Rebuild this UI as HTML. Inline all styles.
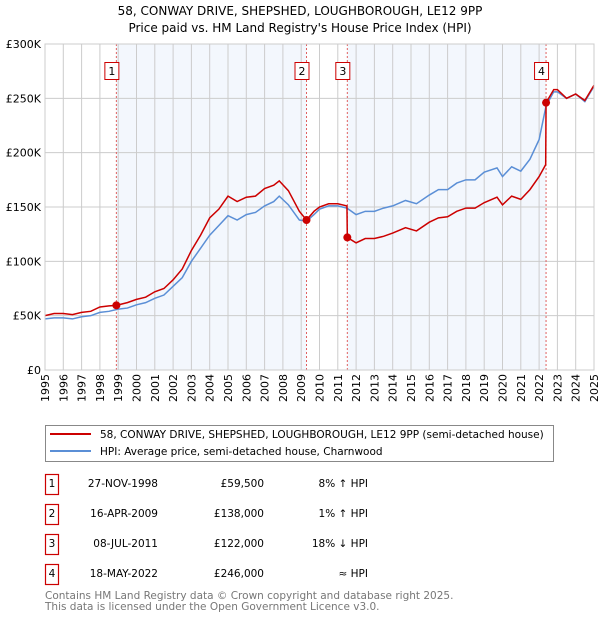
<!DOCTYPE html>
<html><head><meta charset="utf-8"><style>
body{margin:0;background:#fff;}
svg{display:block;font-family:"DejaVu Sans","Liberation Sans",sans-serif;}
</style></head><body>
<svg id="chart" width="600" height="620" viewBox="0 0 600 620">
<text x="300" y="15" text-anchor="middle" font-size="12" fill="#000">58, CONWAY DRIVE, SHEPSHED, LOUGHBOROUGH, LE12 9PP</text>
<text x="300" y="32" text-anchor="middle" font-size="12" fill="#000">Price paid vs. HM Land Registry's House Price Index (HPI)</text>
<g id="plot"></g>
<g>
<rect x="45.5" y="425.5" width="508" height="36" fill="#fff" stroke="#888"/>
<line x1="50" y1="434" x2="91" y2="434" stroke="#cc0000" stroke-width="2"/>
<text x="100" y="438" font-size="10.5">58, CONWAY DRIVE, SHEPSHED, LOUGHBOROUGH, LE12 9PP (semi-detached house)</text>
<line x1="50" y1="451" x2="91" y2="451" stroke="#5b8fd6" stroke-width="2"/>
<text x="100" y="455" font-size="10.5">HPI: Average price, semi-detached house, Charnwood</text>
</g>
<g id="table" font-size="10.5"></g>
<text x="45" y="599" font-size="10.5" fill="#777">Contains HM Land Registry data © Crown copyright and database right 2025.</text>
<text x="45" y="610" font-size="10.5" fill="#777">This data is licensed under the Open Government Licence v3.0.</text>
</svg>
<script>
const hpiYears=[1995,1995.5,1996,1996.5,1997,1997.5,1998,1998.5,1999,1999.5,2000,2000.5,2001,2001.5,2002,2002.5,2003,2003.5,2004,2004.5,2005,2005.5,2006,2006.5,2007,2007.5,2007.8,2008.3,2008.9,2009.3,2009.7,2010,2010.5,2011,2011.5,2012,2012.5,2013,2013.5,2014,2014.7,2015.3,2016,2016.5,2017,2017.5,2018,2018.5,2019,2019.7,2020,2020.5,2021,2021.5,2022,2022.38,2022.8,2023,2023.5,2024,2024.5,2025];
const hpiValues=[47,48,48,47,49,50,53,54,56,57,60,62,66,69,77,85,100,112,124,133,142,138,143,145,151,155,160,152,138,137,143,148,151,151,149,143,146,146,149,151,156,153,161,166,166,172,175,175,182,186,178,187,183,194,212,243,256,256,250,254,247,261];
const propYears=[1995,1995.5,1996,1996.5,1997,1997.5,1998,1998.5,1998.9,1999.5,2000,2000.5,2001,2001.5,2002,2002.5,2003,2003.5,2004,2004.5,2005,2005.5,2006,2006.5,2007,2007.5,2007.8,2008.3,2008.9,2009.29,2009.7,2010,2010.5,2011,2011.5,2011.52,2012,2012.5,2013,2013.5,2014,2014.7,2015.3,2016,2016.5,2017,2017.5,2018,2018.5,2019,2019.7,2020,2020.5,2021,2021.5,2022,2022.36,2022.38,2022.8,2023,2023.5,2024,2024.5,2025];
const propValues=[50,52,52,51,53,54,58,59,59.5,62,65,67,72,75,83,93,110,124,140,148,160,155,159,160,167,170,174,165,146,138,146,150,153,153,151,122,117,121,121,123,126,131,128,136,140,141,146,149,149,154,159,152,160,157,166,178,189,246,258,258,250,254,248,262];
const saleYears=[1998.9,2009.29,2011.52,2022.38];
const saleValues=[59.5,138,122,246];
const saleLabels=["1","2","3","4"];
const saleDates=["27-NOV-1998","16-APR-2009","08-JUL-2011","18-MAY-2022"];
const salePrices=["£59,500","£138,000","£122,000","£246,000"];
const saleHpi=["8% ↑ HPI","1% ↑ HPI","18% ↓ HPI","≈ HPI"];
const yTicks=[0,50,100,150,200,250,300];
const yTickLabels=["£0","£50K","£100K","£150K","£200K","£250K","£300K"];
const xTicks=[1995,1996,1997,1998,1999,2000,2001,2002,2003,2004,2005,2006,2007,2008,2009,2010,2011,2012,2013,2014,2015,2016,2017,2018,2019,2020,2021,2022,2023,2024,2025];

const NS="http://www.w3.org/2000/svg";
const L=45,R=594,T=44,B=370;
const sx=v=>L+(v-1995)/30*(R-L);
const sy=v=>B-v/300*(B-T);
const plot=document.getElementById('plot');
function mk(tag,attrs,parent){const e=document.createElementNS(NS,tag);for(const k in attrs)e.setAttribute(k,attrs[k]);(parent||plot).appendChild(e);return e;}

const bg=mk('rect',{x:L,y:T,width:R-L,height:B-T,fill:'#fff'});


for(let i=0;i<saleYears.length;i+=2){
  const s=mk('rect',{x:sx(saleYears[i]),y:T,width:sx(saleYears[i+1])-sx(saleYears[i]),height:B-T,fill:'#eef3fc',opacity:0.7});
  
  
}
xTicks.forEach(v=>{
  const g=mk('line',{x1:sx(v),x2:sx(v),y1:T,y2:B,stroke:'#ccc','stroke-width':1});
  
  
  const tx=sx(v)+4, ty=B+4;
  const t=mk('text',{x:tx,y:ty,'text-anchor':'end','font-size':11,fill:'#000',transform:'rotate(-90 '+tx+' '+ty+')'});
  t.textContent=v;
  
  
});
yTicks.forEach((v,i)=>{
  const g=mk('line',{x1:L,x2:R,y1:sy(v),y2:sy(v),stroke:'#ccc','stroke-width':1});
  
  
  const t=mk('text',{x:L-4,y:sy(v)+4,'text-anchor':'end','font-size':11,fill:'#000'});
  t.textContent=yTickLabels[i];
  
  
});
saleYears.forEach((v,i)=>{
  const d=mk('line',{x1:sx(v),x2:sx(v),y1:T,y2:B,stroke:'#e06060','stroke-width':1,'stroke-dasharray':'2,2'});
  
  
});
const hp=mk('polyline',{points:hpiYears.map((y,i)=>sx(y)+','+sy(hpiValues[i])).join(' '),fill:'none',stroke:'#5b8fd6','stroke-width':1.5});


const pp=mk('polyline',{points:propYears.map((y,i)=>sx(y)+','+sy(propValues[i])).join(' '),fill:'none',stroke:'#cc0000','stroke-width':1.5});


saleYears.forEach((v,i)=>{
  const c=mk('circle',{cx:sx(v),cy:sy(saleValues[i]),r:4,fill:'#cc0000'});
  
  
  const r=mk('rect',{x:sx(v)-11.5,y:62.5,width:14,height:17,fill:'#fff',stroke:'#c00','stroke-width':1});
  
  
  const t=mk('text',{x:sx(v)-4.5,y:75,'text-anchor':'middle','font-size':11});
  t.textContent=saleLabels[i];
  
  
});
const frame=mk('rect',{x:L,y:T,width:R-L,height:B-T,fill:'none',stroke:'#ccc'});



const tbl=document.getElementById('table');
saleLabels.forEach((l,i)=>{
  const y=483+i*30;
  const r=mk('rect',{x:45.5,y:y-8.5,width:13,height:20,fill:'none',stroke:'#c00','stroke-width':1.2},tbl);
  
  
  const cells=[[52,'middle',l,'table-marker'],[158,'end',saleDates[i],'table-date'],[264,'end',salePrices[i],'table-price'],[368,'end',saleHpi[i],'table-hpi-diff']];
  cells.forEach(c=>{
    const t=mk('text',{x:c[0],y:y+4,'text-anchor':c[1]},tbl);
    t.textContent=c[2];
    
    
  });
});
</script>
</body></html>
